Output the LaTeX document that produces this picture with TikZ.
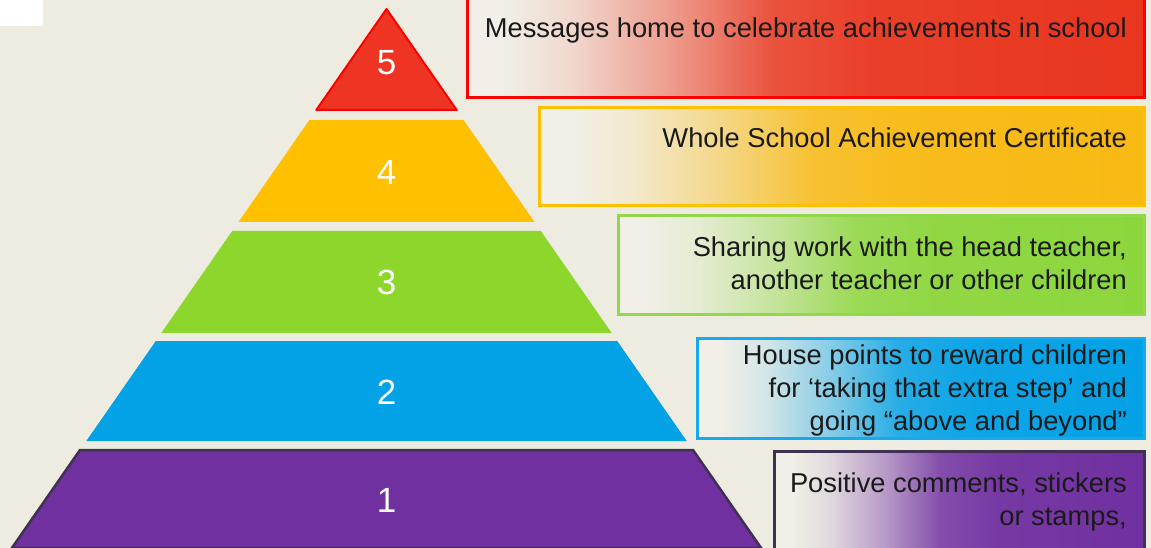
\documentclass[tikz,border=0pt]{standalone}
\usepackage{fontspec}
\setmainfont{Liberation Sans}
\usepackage{xcolor}

\definecolor{bgtan}{HTML}{EEECE1}
\definecolor{boxlight}{HTML}{F1EFE7}
\definecolor{textdark}{HTML}{1A1A1A}
\definecolor{tierred}{HTML}{EE3524}
\definecolor{tieryellow}{HTML}{FFC000}
\definecolor{tiergreen}{HTML}{8DD62B}
\definecolor{tierblue}{HTML}{03A1E6}
\definecolor{tierpurple}{HTML}{7030A0}
\definecolor{edgepurple}{HTML}{3F3151}
\definecolor{fillred}{HTML}{E9361F}
\definecolor{fillyellow}{HTML}{F8B912}
\definecolor{fillgreen}{HTML}{8CD63C}
\definecolor{edgegreen}{HTML}{92D84A}
\definecolor{edgeblue}{HTML}{14AAEC}

% fade from the page colour into the tier colour
\colorlet{fadecol}{fillred}
\pgfdeclarehorizontalshading[fadecol]{boxfade}{100bp}{color(0bp)=(boxlight); color(27.5bp)=(boxlight); color(32.5bp)=(fadecol!12!boxlight); color(40bp)=(fadecol!45!boxlight); color(47.5bp)=(fadecol!85!boxlight); color(55bp)=(fadecol!95!boxlight); color(75bp)=(fadecol); color(100bp)=(fadecol)}

\begin{document}
\begin{tikzpicture}[x=1pt, y=-1pt,
    num/.style={text=white, font=\fontsize{35}{35}\selectfont},
    descbox/.style 2 args={rectangle, draw=#2, line width=3pt, shade, shading=boxfade,
        /utils/exec={\colorlet{fadecol}{#1}}, anchor=north west, inner sep=0pt},
    desc/.style={font=\fontsize{27.3}{33}\selectfont, text=textdark, align=right, inner sep=0pt, anchor=north east}
]
    \useasboundingbox (0,0) rectangle (1151,548);
    \clip (0,0) rectangle (1151,548);
    \fill[bgtan] (0,0) rectangle (1151,548);
    \fill[white] (0,0) rectangle (43,26);

    % pyramid, top tier first
    \filldraw[fill=tierred, draw=red, line width=2pt, line join=round] (386.5,9) -- (456.7,110) -- (316.3,110) -- cycle;
    \fill[tieryellow] (309.4,120) -- (463.6,120) -- (534.5,222) -- (238.5,222) -- cycle;
    \fill[tiergreen] (232.2,231) -- (540.8,231) -- (611.7,333) -- (161.3,333) -- cycle;
    \fill[tierblue] (155.8,341) -- (617.2,341) -- (686.7,441) -- (86.3,441) -- cycle;
    \filldraw[fill=tierpurple, draw=edgepurple, line width=2.5pt] (80,450) -- (693,450) -- (761.1,548) -- (11.9,548) -- cycle;

    \node[num] (n5) at (386.5,63) {5};
    \node[num] (n4) at (386.5,172) {4};
    \node[num] (n3) at (386.5,282) {3};
    \node[num] (n2) at (386.5,392) {2};
    \node[num] (n1) at (386.5,500) {1};

    % one box per tier
    \node[descbox={fillred}{red}, minimum width=677pt, minimum height=102pt] (box5) at (466,-6) {};
    \node[descbox={fillyellow}{tieryellow}, minimum width=605pt, minimum height=98pt] (box4) at (538,106) {};
    \node[descbox={fillgreen}{edgegreen}, minimum width=526pt, minimum height=99pt] (box3) at (617,214) {};
    \node[descbox={tierblue}{edgeblue}, minimum width=447pt, minimum height=100pt] (box2) at (696,337) {};
    \node[descbox={tierpurple}{edgepurple}, minimum width=370pt, minimum height=104pt] (box1) at (773,450) {};

    \node[desc] (txt5) at (1127,18) {Messages home to celebrate achievements in school};
    \node[desc] (txt4) at (1127,128) {Whole School Achievement Certificate};
    \node[desc] (txt3) at (1127,237) {Sharing work with the head teacher,\\another teacher or other children};
    \node[desc] (txt2) at (1127,345) {House points to reward children\\for ‘taking that extra step’ and\\going “above and beyond”};
    \node[desc] (txt1) at (1127,473) {Positive comments, stickers\\or stamps,};
\end{tikzpicture}
\end{document}
